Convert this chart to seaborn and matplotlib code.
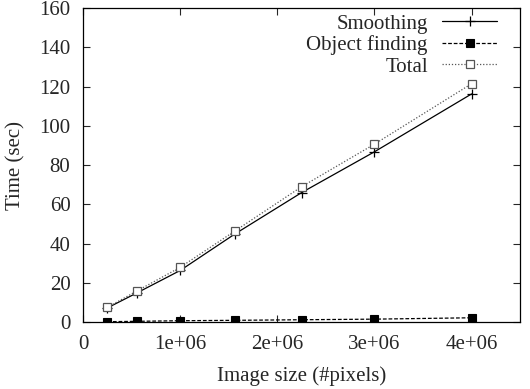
import matplotlib
matplotlib.use("Agg")
import matplotlib.pyplot as plt
from matplotlib.lines import Line2D
import seaborn as sns
import pandas as pd

sizes = [0.25e6, 0.56e6, 1.0e6, 1.56e6, 2.25e6, 3.0e6, 4.0e6]
smoothing = [7.2, 15.0, 26.3, 44.8, 66.0, 86.8, 116.3]
object_finding = [0.2, 0.4, 0.7, 0.9, 1.2, 1.5, 2.2]
total = [7.5, 16.0, 27.9, 46.3, 69.0, 90.7, 121.5]
xticks = [0, 1e6, 2e6, 3e6, 4e6]
xtick_labels = ["0", "1e+06", "2e+06", "3e+06", "4e+06"]
yticks = [0, 20, 40, 60, 80, 100, 120, 140, 160]

sns.set_style("ticks")
plt.rcParams['font.family'] = ['Liberation Serif', 'DejaVu Serif']
plt.rcParams['font.size'] = 15

fig = plt.figure(figsize=(5.3, 3.89), dpi=100)
ax = fig.add_axes([0.1566, 0.172, 0.9815 - 0.1566, 0.979 - 0.172])

df = pd.DataFrame({"x": sizes, "s": smoothing, "o": object_finding, "t": total})
styles = [
    dict(y="s", label="Smoothing", color="black", linestyle="-", marker="+",
         markersize=7, markeredgewidth=0.9, markerfacecolor="black", markeredgecolor="black"),
    dict(y="o", label="Object finding", color="black", linestyle=(0, (3, 1.5)), marker="s",
         markersize=5.5, markeredgewidth=0.8, markerfacecolor="black", markeredgecolor="black"),
    dict(y="t", label="Total", color="#555555", linestyle=(0, (1, 1.5)), marker="s",
         markersize=5.5, markeredgewidth=0.9, markerfacecolor="white", markeredgecolor="#555555"),
]
handles = []
for st in styles:
    sns.lineplot(data=df, x="x", y=st["y"], ax=ax, color=st["color"], lw=0.9,
                 linestyle=st["linestyle"], marker=st["marker"], markersize=st["markersize"],
                 markeredgewidth=st["markeredgewidth"], markerfacecolor=st["markerfacecolor"],
                 markeredgecolor=st["markeredgecolor"], legend=False)
    handles.append(Line2D([], [], color=st["color"], lw=0.9, linestyle=st["linestyle"],
                          marker=st["marker"], markersize=st["markersize"],
                          markeredgewidth=st["markeredgewidth"],
                          markerfacecolor=st["markerfacecolor"],
                          markeredgecolor=st["markeredgecolor"], label=st["label"]))

ax.set_xlim(0, 4.5e6)
ax.set_ylim(0, 160)
ax.set_xticks(xticks)
ax.set_xticklabels(xtick_labels)
ax.set_yticks(yticks)
ax.tick_params(direction="in", top=True, right=True, length=5, width=0.8, labelsize=15)
ax.tick_params(axis="x", pad=9)
ax.tick_params(axis="y", pad=9)
for sp in ax.spines.values():
    sp.set_visible(True)
    sp.set_linewidth(0.9)
    sp.set_color("black")
ax.set_xlabel("Image size (#pixels)", fontsize=15, labelpad=9)
ax.set_ylabel("Time (sec)", fontsize=15, labelpad=10)

leg = ax.legend(handles=handles, loc="upper right", frameon=False, markerfirst=False,
                numpoints=1, handlelength=2.6, fontsize=15, labelspacing=0.08,
                borderaxespad=0.0, borderpad=0.0, handletextpad=0.7,
                bbox_to_anchor=(0.946, 0.981))
for t in leg.get_texts():
    t.set_ha("right")
leg._legend_box.align = "right"

fig.savefig("out.png", dpi=100)
